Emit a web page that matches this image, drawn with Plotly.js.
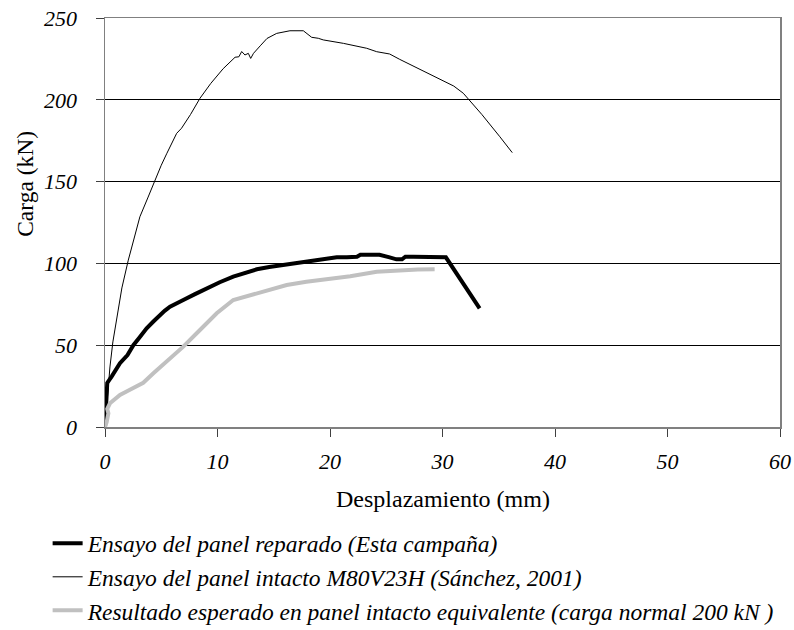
<!DOCTYPE html>
<html>
<head>
<meta charset="utf-8">
<script src="https://cdn.plot.ly/plotly-3.0.1.min.js"></script>
<style>html,body{margin:0;padding:0;background:#fff;}#chart{width:794px;height:630px;}</style>
</head>
<body>
<div id="chart"></div>
<script>
// Ensayo del panel reparado (Esta campaña)
const reparadoX = [0, 0.1, 0.2, 0.6, 1.33, 2.0, 2.52, 3.1, 3.7, 4.3, 4.89, 5.3, 5.78, 6.3, 6.96, 8.0, 9.04, 10.2, 11.4, 12.5, 13.5, 14.6, 15.85, 16.9, 17.9, 18.8, 19.7, 20.6, 21.5, 22.4, 22.7, 24.4, 25.3, 25.9, 26.4, 26.7, 27.4, 30.1, 30.3, 33.3];
const reparadoY = [0, 22, 27, 31, 39, 44, 50, 55, 60.3, 64.5, 68.5, 71, 73.5, 75.5, 77.6, 81.2, 84.8, 88.5, 91.9, 94.3, 96.4, 97.8, 99, 100.2, 101.2, 102, 102.4, 103.7, 103.8, 104.1, 105.3, 105.3, 103.7, 102.5, 102.5, 104.1, 104.1, 104.1, 103.7, 72.5];

// Ensayo del panel intacto M80V23H (Sánchez, 2001)
const intactoX = [0, 0.2, 0.44, 0.7, 1.04, 1.5, 2.07, 2.6, 3.1, 3.8, 4.44, 5.0, 5.48, 6.0, 6.37, 6.8, 7.6, 8.44, 9.4, 10.5, 11.56, 11.9, 12.15, 12.44, 12.74, 12.95, 13.2, 13.8, 14.4, 15.26, 16.44, 17.63, 17.93, 18.37, 18.96, 19.4, 21.2, 23.26, 24.15, 25.3, 26.2, 28.6, 31.0, 31.85, 33.5, 35.1, 36.2];
const intactoY = [0, 18, 36.7, 52, 67, 85, 102, 116, 128.5, 140, 151, 160, 167, 174, 179.5, 182.6, 191, 200.9, 210, 219, 226, 226.3, 229.5, 227.4, 228.4, 225.3, 228.4, 233, 237.5, 240.6, 242.2, 242.2, 240.6, 238.2, 237.6, 236.6, 234.5, 231.5, 229.4, 228, 224.7, 216.6, 208.4, 204, 191, 177.4, 167.7];

// Resultado esperado en panel intacto equivalente (carga normal 200 kN)
const esperadoX = [0, 0.15, 0.3, 0.2, 0.44, 0.74, 1.33, 2.0, 2.8, 3.4, 4.3, 5.5, 6.96, 8.44, 9.93, 11.4, 12.9, 14.4, 16.15, 17.9, 19.7, 21.8, 24.15, 26.2, 27.8, 29.3];
const esperadoY = [0, 3, 8.4, 11, 14.5, 16.5, 19.6, 22, 24.6, 27, 32.8, 39.9, 49.1, 59.3, 69.5, 77.6, 80.7, 83.7, 86.8, 88.8, 90.3, 92.1, 94.9, 96, 96.3, 96.4];

const seriesNames = [
  'Ensayo del panel reparado (Esta campaña)',
  'Ensayo del panel intacto M80V23H (Sánchez, 2001)',
  'Resultado esperado en panel intacto equivalente (carga normal 200 kN )'
];
const xTitle = 'Desplazamiento (mm)';
const yTitle = 'Carga (kN)';
const xTicks = [0, 10, 20, 30, 40, 50, 60];
const yTicks = [0, 50, 100, 150, 200, 250];

const serif = 'Liberation Serif';

const traces = [
  {x: reparadoX, y: reparadoY, name: seriesNames[0], type: 'scatter', mode: 'lines',
   line: {color: '#000000', width: 4}},
  {x: intactoX, y: intactoY, name: seriesNames[1], type: 'scatter', mode: 'lines',
   line: {color: '#000000', width: 1}},
  {x: esperadoX, y: esperadoY, name: seriesNames[2], type: 'scatter', mode: 'lines',
   line: {color: '#c0c0c0', width: 4}}
];

const layout = {
  width: 794, height: 630,
  margin: {l: 105, r: 14, t: 18, b: 202.5, pad: 0, autoexpand: false},
  paper_bgcolor: '#ffffff', plot_bgcolor: '#ffffff',
  showlegend: true,
  legend: {
    x: -0.085, xanchor: 'left', y: -0.231, yanchor: 'top',
    orientation: 'v', itemwidth: 30, tracegroupgap: 0,
    font: {family: serif, size: 23.5, color: '#000', style: 'italic'},
    bgcolor: 'rgba(0,0,0,0)'
  },
  xaxis: {
    range: [0, 60], tickvals: xTicks, ticktext: xTicks.map(String),
    showgrid: false, zeroline: false,
    showline: true, linecolor: '#808080', linewidth: 1.5, mirror: true,
    ticks: 'outside', ticklen: 8, tickcolor: '#404040', tickwidth: 1,
    ticklabelstandoff: 6,
    tickfont: {family: serif, size: 22, color: '#000', style: 'italic'}
  },
  yaxis: {
    range: [0, 250], tickvals: yTicks, ticktext: yTicks.map(String),
    showgrid: true, gridcolor: '#000000', gridwidth: 1, zeroline: false,
    showline: true, linecolor: '#808080', linewidth: 1.5, mirror: true,
    ticks: 'outside', ticklen: 8, tickcolor: '#404040', tickwidth: 1,
    ticklabelstandoff: 14,
    tickfont: {family: serif, size: 22, color: '#000', style: 'italic'}
  },
  annotations: [
    {text: xTitle, xref: 'paper', yref: 'paper', x: 0.5, y: -0.177,
     xanchor: 'center', yanchor: 'middle', showarrow: false,
     font: {family: serif, size: 24, color: '#000'}},
    {text: yTitle, xref: 'paper', yref: 'paper', x: -0.1185, y: 0.5946,
     xanchor: 'center', yanchor: 'middle', showarrow: false, textangle: -90,
     font: {family: serif, size: 23.5, color: '#000'}}
  ]
};

Plotly.newPlot('chart', traces, layout, {displayModeBar: false, staticPlot: true});
</script>
</body>
</html>
